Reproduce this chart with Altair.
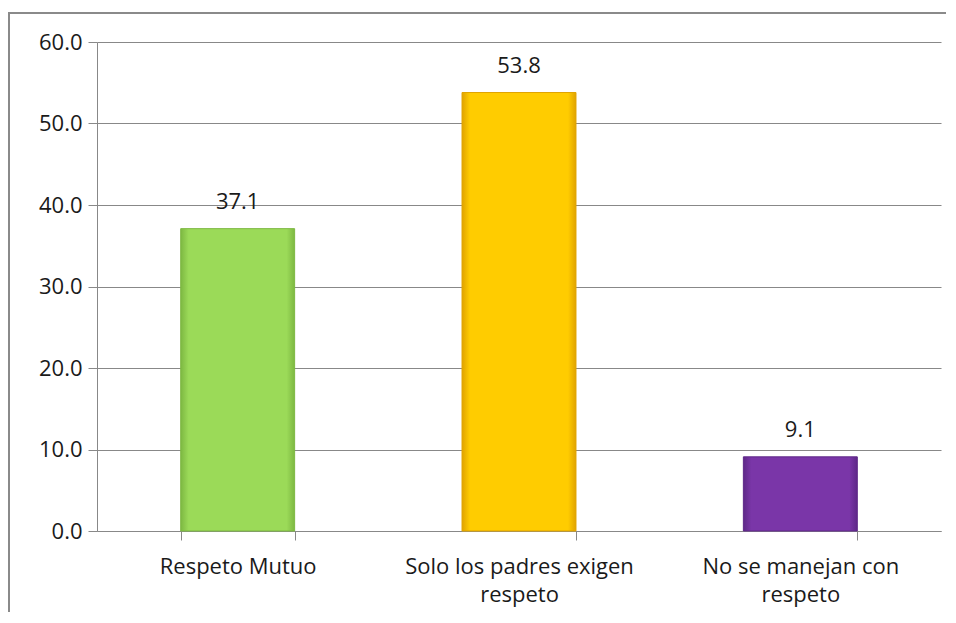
import altair as alt
import pandas as pd

categories = ["Respeto Mutuo", "Solo los padres exigen\nrespeto", "No se manejan con\nrespeto"]
values = [37.1, 53.8, 9.1]
base_colors = ["#9BDA58", "#FFCC00", "#7A36A8"]
edge_colors = ["#7DB842", "#E0A300", "#5E2888"]

df = pd.DataFrame({"cat": categories, "val": values})

FONT = "Open Sans"
x_enc = alt.X("cat:N", sort=categories, title=None,
              scale=alt.Scale(paddingInner=0.595, paddingOuter=0.2975),
              axis=alt.Axis(labelAngle=0, labelExpr="split(datum.label, '\\n')",
                            labelFontSize=22, labelFont=FONT, labelColor="#1a1a1a",
                            labelPadding=16, labelLineHeight=28, labelBaseline="top",
                            labelLimit=0,
                            tickBand="extent", tickSize=9, tickColor="#888888",
                            domainColor="#888888", grid=False))
y_enc = alt.Y("val:Q", title=None,
              scale=alt.Scale(domain=[0, 60]),
              axis=alt.Axis(values=[0, 10, 20, 30, 40, 50, 60], format=".1f",
                            labelFontSize=22, labelFont=FONT, labelColor="#1a1a1a",
                            labelPadding=6, tickSize=9, tickColor="#888888",
                            domainColor="#888888", gridColor="#888888", gridWidth=1.2))

one = pd.DataFrame({"a": [0]})
border_top = alt.Chart(one).mark_rule(stroke="#8a8a8a", strokeWidth=2).encode(
    x=alt.value(-88), x2=alt.value(1000), y=alt.value(-29))
border_left = alt.Chart(one).mark_rule(stroke="#8a8a8a", strokeWidth=2).encode(
    x=alt.value(-88), y=alt.value(-30), y2=alt.value(1000))

layers = [border_top, border_left]
for cat, bc, ec in zip(categories, base_colors, edge_colors):
    grad = alt.Gradient(gradient="linear", x1=0, x2=1, y1=0, y2=0,
                        stops=[alt.GradientStop(color=ec, offset=0),
                               alt.GradientStop(color=bc, offset=0.07),
                               alt.GradientStop(color=bc, offset=0.93),
                               alt.GradientStop(color=ec, offset=1)])
    layers.append(
        alt.Chart(df).transform_filter(alt.datum.cat == cat)
        .mark_bar(color=grad, stroke=ec, strokeWidth=1)
        .encode(x=x_enc, y=y_enc)
    )

text = alt.Chart(df).mark_text(baseline="bottom", dy=-15, fontSize=22, font=FONT,
                               color="#1a1a1a").encode(
    x=alt.X("cat:N", sort=categories), y="val:Q", text=alt.Text("val:Q", format=".1f"))
layers.append(text)

chart = alt.layer(*layers).properties(
    width=844, height=489,
    autosize=alt.AutoSizeParams(type="none"),
    padding={"left": 89, "top": 34, "right": 5, "bottom": 81},
).configure_view(stroke=None)

chart.save("out.html", embed_options={"renderer": "svg", "actions": False})
